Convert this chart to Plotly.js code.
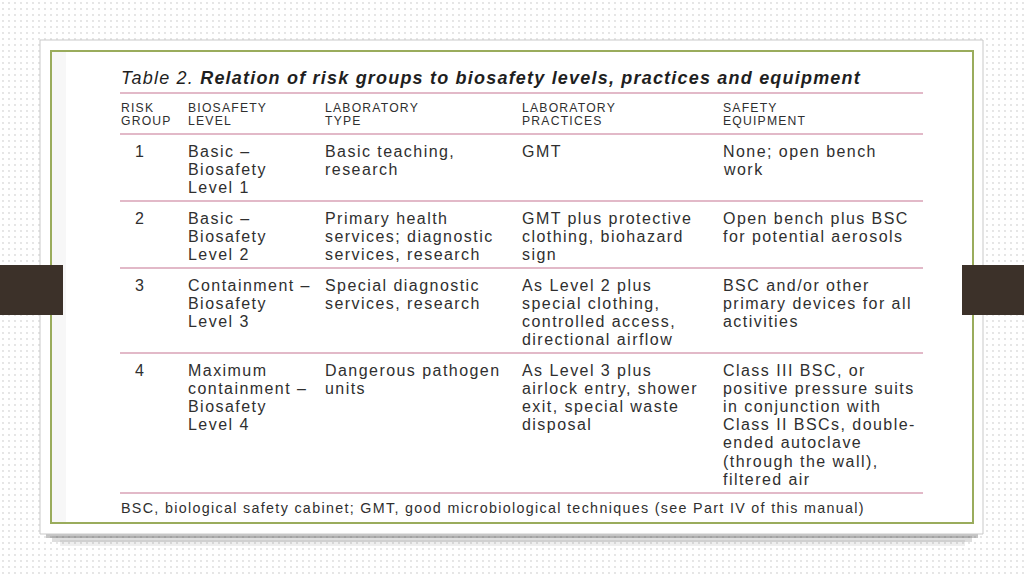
<!DOCTYPE html>
<html lang="en">
<head>
    <meta charset="UTF-8">
    <title>Table 2. Relation of risk groups to biosafety levels</title>
    <script src="https://cdn.plot.ly/plotly-3.0.1.min.js"></script>
    <style>
        html, body {
            margin: 0;
            padding: 0;
            width: 1024px;
            height: 576px;
            overflow: hidden;
            background-color: #ffffff;
            background-image: radial-gradient(circle, #d2d2d2 0.55px, transparent 0.9px);
            background-size: 6px 6px;
        }
        #chart {
            width: 1024px;
            height: 576px;
        }
    </style>
</head>
<body>
    <div id="chart"></div>

    <script>
        // Table content
        const tableTitle = '<i>Table 2.</i> <b><i>Relation of risk groups to biosafety levels, practices and equipment</i></b>';
        const headers = ['RISK<br>GROUP', 'BIOSAFETY<br>LEVEL', 'LABORATORY<br>TYPE', 'LABORATORY<br>PRACTICES', 'SAFETY<br>EQUIPMENT'];
        const riskGroups = ['1', '2', '3', '4'];
        const biosafetyLevels = [
            'Basic –<br>Biosafety<br>Level 1',
            'Basic –<br>Biosafety<br>Level 2',
            'Containment –<br>Biosafety<br>Level 3',
            'Maximum<br>containment –<br>Biosafety<br>Level 4'
        ];
        const labTypes = [
            'Basic teaching,<br>research',
            'Primary health<br>services; diagnostic<br>services, research',
            'Special diagnostic<br>services, research',
            'Dangerous pathogen<br>units'
        ];
        const labPractices = [
            'GMT',
            'GMT plus protective<br>clothing, biohazard<br>sign',
            'As Level 2 plus<br>special clothing,<br>controlled access,<br>directional airflow',
            'As Level 3 plus<br>airlock entry, shower<br>exit, special waste<br>disposal'
        ];
        const safetyEquipment = [
            'None; open bench<br>work',
            'Open bench plus BSC<br>for potential aerosols',
            'BSC and/or other<br>primary devices for all<br>activities',
            'Class III BSC, or<br>positive pressure suits<br>in conjunction with<br>Class II BSCs, double-<br>ended autoclave<br>(through the wall),<br>filtered air'
        ];
        const footnote = 'BSC, biological safety cabinet; GMT, good microbiological techniques (see Part IV of this manual)';

        // layout (pixel units)
        const colX = [119, 186, 323, 520, 721];
        const numX = 133;
        const rowY = [151, 218, 285, 370];
        const lineH = 18.2;
        const ruleY = [93, 134, 201, 268, 353, 493];
        const ruleColor = '#d9a2b6';
        const textColor = '#2f2f2f';
        const bodyFont = 'Liberation Sans, Arial, sans-serif';

        function spaced(txt, ls) {
            return '<span style="letter-spacing:' + ls + 'px">' + txt + '</span>';
        }

        const annotations = [];
        function addText(x, y, txt, size, ls, color) {
            annotations.push({
                xref: 'x', yref: 'y', x: x, y: y,
                xanchor: 'left', yanchor: 'middle', align: 'left',
                showarrow: false,
                text: spaced(txt, ls),
                font: { family: bodyFont, size: size, color: color || textColor }
            });
        }

        // title
        addText(119, 78, tableTitle, 18, 1.2, '#1f1f1f');

        // headers
        headers.forEach((h, c) => {
            h.split('<br>').forEach((ln, i) => addText(colX[c], 108 + i * 13.2, ln, 12.2, 1.2));
        });

        // body rows
        const columns = [riskGroups, biosafetyLevels, labTypes, labPractices, safetyEquipment];
        columns.forEach((col, c) => {
            col.forEach((cell, r) => {
                cell.split('<br>').forEach((ln, i) => {
                    addText(c === 0 ? numX : colX[c], rowY[r] + i * lineH, ln, 16, 1.45);
                });
            });
        });

        // footnote
        addText(119, 508, footnote, 14.3, 1.32);

        const shapes = [];
        // card shadow
        [[46, 533, 978, 538, 0.35], [52, 536, 972, 542, 0.2], [60, 540, 965, 546, 0.1]].forEach(s => {
            shapes.push({ type: 'rect', xref: 'x', yref: 'y', x0: s[0], y0: s[1], x1: s[2], y1: s[3],
                fillcolor: 'rgba(90,90,90,' + s[4] + ')', line: { width: 0 }, layer: 'below' });
        });
        // card
        shapes.push({ type: 'rect', xref: 'x', yref: 'y', x0: 40, y0: 40, x1: 983, y1: 534,
            fillcolor: '#ffffff', line: { color: '#c9c9c9', width: 1 }, layer: 'below' });
        shapes.push({ type: 'rect', xref: 'x', yref: 'y', x0: 52, y0: 52, x1: 66, y1: 522,
            fillcolor: 'rgba(240,240,240,0.5)', line: { width: 0 }, layer: 'below' });
        shapes.push({ type: 'rect', xref: 'x', yref: 'y', x0: 51, y0: 51, x1: 973, y1: 523,
            fillcolor: 'rgba(0,0,0,0)', line: { color: '#9aac5c', width: 2 } });
        // table rules
        ruleY.forEach(y => {
            shapes.push({ type: 'line', xref: 'x', yref: 'y', x0: 120, x1: 923, y0: y, y1: y,
                line: { color: ruleColor, width: 1.4 } });
        });
        // side bars
        shapes.push({ type: 'rect', xref: 'x', yref: 'y', x0: 0, y0: 265, x1: 63, y1: 315,
            fillcolor: '#3c3129', line: { width: 0 } });
        shapes.push({ type: 'rect', xref: 'x', yref: 'y', x0: 962, y0: 265, x1: 1024, y1: 315,
            fillcolor: '#3c3129', line: { width: 0 } });

        const layout = {
            width: 1024,
            height: 576,
            margin: { l: 0, r: 0, t: 0, b: 0 },
            paper_bgcolor: 'rgba(0,0,0,0)',
            plot_bgcolor: 'rgba(0,0,0,0)',
            showlegend: false,
            xaxis: { range: [0, 1024], visible: false, fixedrange: true },
            yaxis: { range: [576, 0], visible: false, fixedrange: true },
            shapes: shapes,
            annotations: annotations
        };

        Plotly.newPlot('chart', [{ x: [], y: [], type: 'scatter', mode: 'markers', hoverinfo: 'skip' }], layout, { staticPlot: true, displayModeBar: false });
    </script>
</body>
</html>
